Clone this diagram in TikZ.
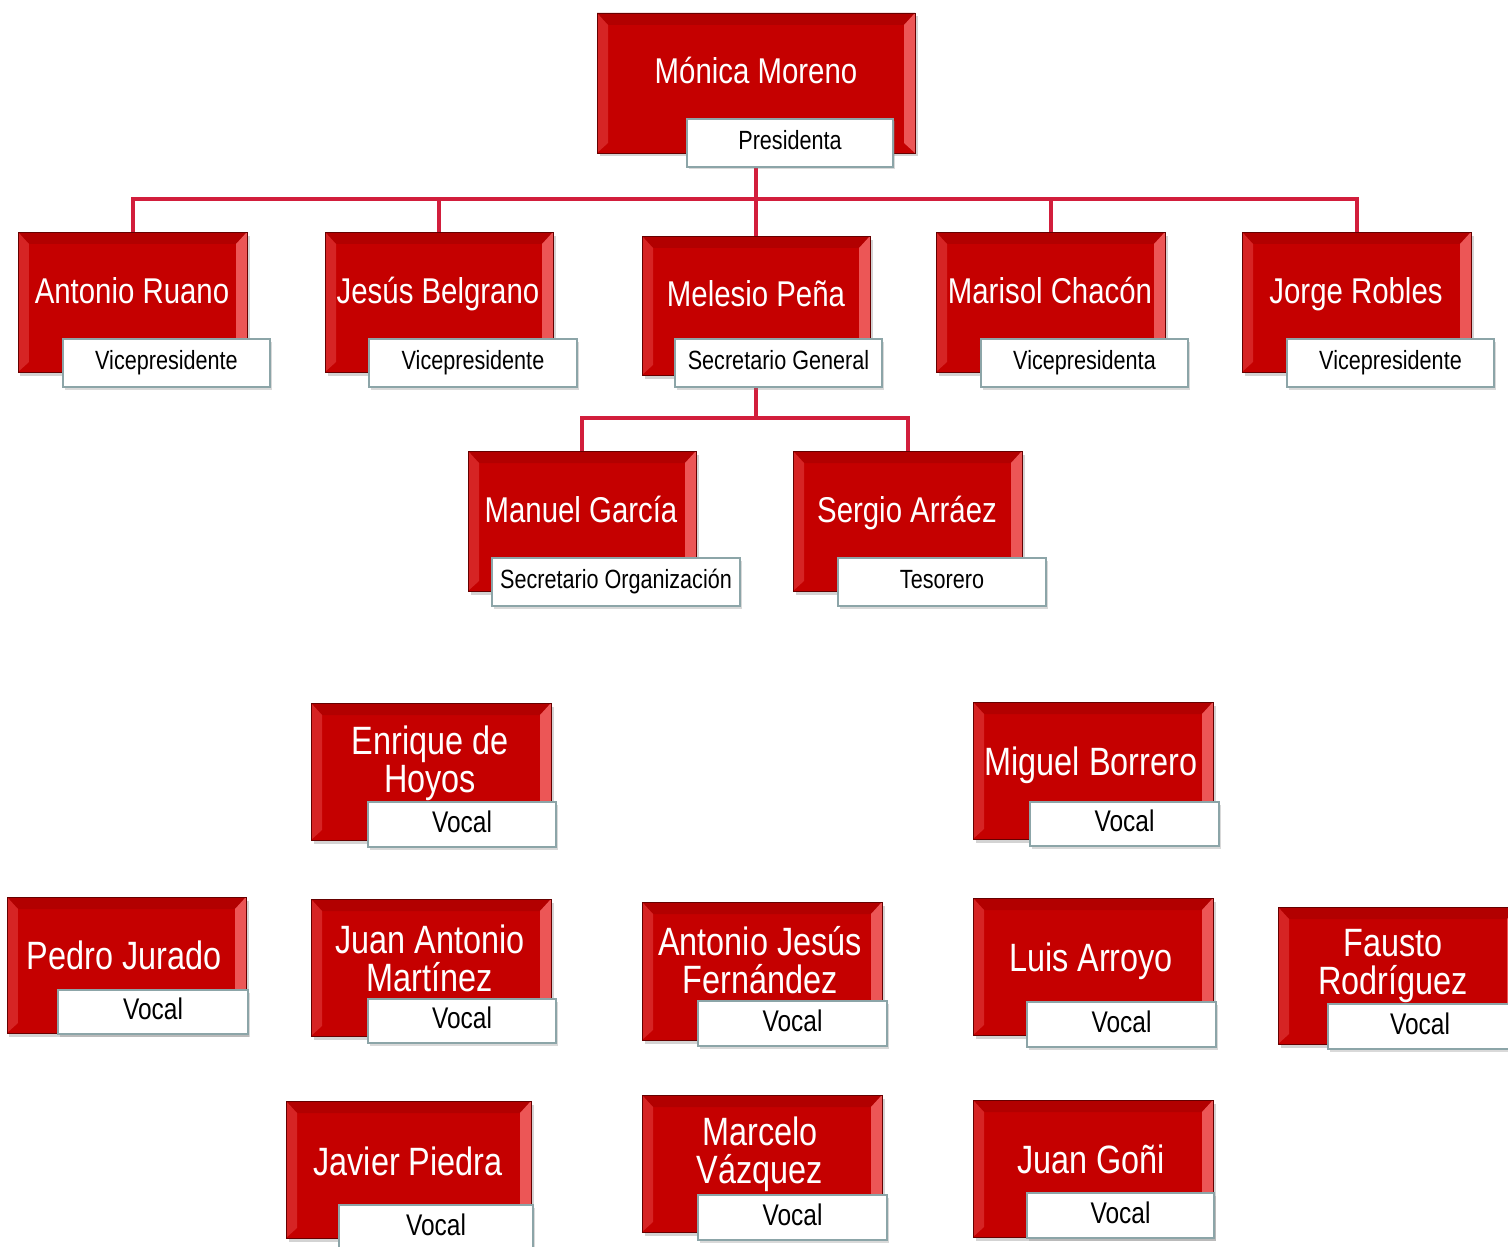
\documentclass[tikz,border=0pt]{standalone}
\usepackage{fontspec}
\setmainfont{Liberation Sans}[FakeStretch=0.82]
\usetikzlibrary{shadows,backgrounds}
\definecolor{boxred}{RGB}{197,0,0}
\definecolor{bevelleft}{RGB}{214,36,36}
\definecolor{bevelright}{RGB}{236,86,86}
\definecolor{beveltop}{RGB}{178,0,0}
\definecolor{linkred}{RGB}{210,30,60}
\definecolor{roleedge}{RGB}{140,165,168}

\tikzset{
  namebox/.style 2 args={minimum width=#1*0.02cm, minimum height=#2*0.02cm,
    fill=boxred, draw=red!40!black, line width=0.4pt,
    drop shadow={shadow xshift=0.05cm, shadow yshift=-0.07cm, opacity=0.35},
    path picture={
      \coordinate (pnw) at (path picture bounding box.north west);
      \coordinate (pne) at (path picture bounding box.north east);
      \coordinate (psw) at (path picture bounding box.south west);
      \coordinate (pse) at (path picture bounding box.south east);
      \coordinate (inw) at ([shift={(0.22cm,-0.24cm)}]pnw);
      \coordinate (ine) at ([shift={(-0.22cm,-0.24cm)}]pne);
      \coordinate (isw) at ([shift={(0.22cm,0.2cm)}]psw);
      \coordinate (ise) at ([shift={(-0.22cm,0.2cm)}]pse);
      \fill[beveltop] (pnw) -- (pne) -- (ine) -- (inw) -- cycle;
      \fill[bevelleft] (pnw) -- (inw) -- (isw) -- (psw) -- cycle;
      \fill[bevelright] (pne) -- (ine) -- (ise) -- (pse) -- cycle;
    }},
  rolebox/.style 2 args={minimum width=#1*0.02cm, minimum height=#2*0.02cm,
    fill=white, draw=roleedge, line width=0.8pt,
    drop shadow={shadow xshift=0.04cm, shadow yshift=-0.05cm, opacity=0.3}},
  topname/.style={text=white, text height=14.6pt, text depth=0pt,
    font=\fontsize{20.4}{22}\selectfont},
  toprole/.style={text height=10.8pt, text depth=3pt,
    font=\fontsize{15}{17}\selectfont},
  lowname/.style={text=white, align=center, font=\fontsize{22.5}{21.5}\selectfont},
  lowsingle/.style={text=white, text height=16.1pt, text depth=0pt,
    font=\fontsize{22.5}{21.5}\selectfont},
  lowrole/.style={text height=12.2pt, text depth=3.4pt,
    font=\fontsize{17}{19}\selectfont},
  link/.style={draw=linkred, line width=0.08cm}
}

\begin{document}
\begin{tikzpicture}[x=0.02cm,y=-0.02cm]
\tikzstyle{every node}+=[inner sep=0pt]
\useasboundingbox (0,0) rectangle (1508,1247);

% presidency
\node[namebox={318}{140}] (moreno) at (756,83) {};
\node[topname] (morenoN) at (756,71) {Mónica Moreno};
\node[rolebox={206}{48}] (morenoR) at (790,143) {};
\node[toprole] (morenoT) at (790,143) {Presidenta};

% second row
\node[namebox={229}{140}] (ruano) at (132.5,302) {};
\node[topname] (ruanoN) at (132,291) {Antonio Ruano};
\node[rolebox={207}{48}] (ruanoR) at (166.5,363) {};
\node[toprole] (ruanoT) at (166.5,363) {Vicepresidente};

\node[namebox={228}{140}] (belgrano) at (439,302) {};
\node[topname] (belgranoN) at (438,291) {Jesús Belgrano};
\node[rolebox={208}{48}] (belgranoR) at (473,363) {};
\node[toprole] (belgranoT) at (473,363) {Vicepresidente};

\node[namebox={228}{139}] (pena) at (756,305.5) {};
\node[topname] (penaN) at (756,294) {Melesio Peña};
\node[rolebox={207}{48}] (penaR) at (778.5,363) {};
\node[toprole] (penaT) at (778.5,363) {Secretario General};

\node[namebox={229}{140}] (chacon) at (1050.5,302) {};
\node[topname] (chaconN) at (1050,291) {Marisol Chacón};
\node[rolebox={207}{48}] (chaconR) at (1084.5,363) {};
\node[toprole] (chaconT) at (1084.5,363) {Vicepresidenta};

\node[namebox={229}{140}] (robles) at (1356.5,302) {};
\node[topname] (roblesN) at (1356,291) {Jorge Robles};
\node[rolebox={207}{48}] (roblesR) at (1390.5,363) {};
\node[toprole] (roblesT) at (1390.5,363) {Vicepresidente};

% third row
\node[namebox={228}{140}] (garcia) at (582,521) {};
\node[topname] (garciaN) at (581,510) {Manuel García};
\node[rolebox={248}{48}] (garciaR) at (616,582) {};
\node[toprole] (garciaT) at (616,582) {Secretario Organización};

\node[namebox={229}{140}] (arraez) at (907.5,521) {};
\node[topname] (arraezN) at (907,510) {Sergio Arráez};
\node[rolebox={208}{48}] (arraezR) at (942,582) {};
\node[toprole] (arraezT) at (942,582) {Tesorero};

% vocales
\node[namebox={240}{137}] (hoyos) at (431,771.5) {};
\node[lowname] (hoyosN) at (430,763) {Enrique de\\Hoyos};
\node[rolebox={188}{45}] (hoyosR) at (462,824.5) {};
\node[lowrole] (hoyosT) at (462,824.5) {Vocal};

\node[namebox={240}{137}] (borrero) at (1093,770.5) {};
\node[lowsingle] (borreroN) at (1091,761) {Miguel Borrero};
\node[rolebox={189}{44}] (borreroR) at (1124.5,824) {};
\node[lowrole] (borreroT) at (1124.5,824) {Vocal};

\node[namebox={239}{136}] (jurado) at (126.5,965) {};
\node[lowsingle] (juradoN) at (124,955) {Pedro Jurado};
\node[rolebox={190}{44}] (juradoR) at (153,1012) {};
\node[lowrole] (juradoT) at (153,1012) {Vocal};

\node[namebox={240}{137}] (martinez) at (431,967.5) {};
\node[lowname] (martinezN) at (430,958) {Juan Antonio\\Martínez};
\node[rolebox={188}{44}] (martinezR) at (462,1021) {};
\node[lowrole] (martinezT) at (462,1021) {Vocal};

\node[namebox={240}{138}] (fernandez) at (762,971) {};
\node[lowname] (fernandezN) at (760,960) {Antonio Jesús\\Fernández};
\node[rolebox={189}{45}] (fernandezR) at (792.5,1023.5) {};
\node[lowrole] (fernandezT) at (792.5,1023.5) {Vocal};

\node[namebox={240}{137}] (arroyo) at (1093,966.5) {};
\node[lowsingle] (arroyoN) at (1091,957) {Luis Arroyo};
\node[rolebox={189}{45}] (arroyoR) at (1121.5,1024.5) {};
\node[lowrole] (arroyoT) at (1121.5,1024.5) {Vocal};

\node[namebox={240}{137}] (rodriguez) at (1398,975.5) {};
\node[lowname] (rodriguezN) at (1393,966) {Fausto\\Rodríguez};
\node[rolebox={189}{45}] (rodriguezR) at (1422.5,1026.5) {};
\node[lowrole] (rodriguezT) at (1420,1026.5) {Vocal};

\node[namebox={245}{137}] (piedra) at (408.5,1169.5) {};
\node[lowsingle] (piedraN) at (408,1161) {Javier Piedra};
\node[rolebox={194}{45}] (piedraR) at (436,1227.5) {};
\node[lowrole] (piedraT) at (436,1227.5) {Vocal};

\node[namebox={240}{137}] (vazquez) at (762,1163.5) {};
\node[lowname] (vazquezN) at (760,1154) {Marcelo\\Vázquez};
\node[rolebox={189}{45}] (vazquezR) at (792.5,1217.5) {};
\node[lowrole] (vazquezT) at (792.5,1217.5) {Vocal};

\node[namebox={240}{137}] (goni) at (1093,1168.5) {};
\node[lowsingle] (goniN) at (1091,1159) {Juan Goñi};
\node[rolebox={187}{45}] (goniR) at (1120.5,1215.5) {};
\node[lowrole] (goniT) at (1120.5,1215.5) {Vocal};

% connectors
\begin{scope}[on background layer]
\coordinate (bus1) at (756,199);
\coordinate (bus2) at (756,418);
\draw[link] (moreno.south) -- (bus1);
\foreach \who in {ruano,belgrano,pena,chacon,robles}
  \draw[link] (bus1) -| (\who.north);
\draw[link] (pena.south) -- (bus2);
\draw[link] (bus2) -| (garcia.north);
\draw[link] (bus2) -| (arraez.north);
\end{scope}
\end{tikzpicture}
\end{document}
